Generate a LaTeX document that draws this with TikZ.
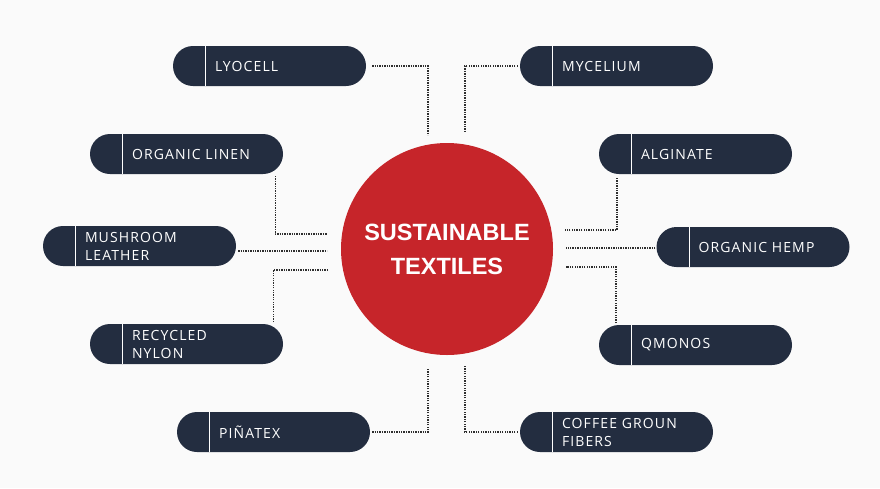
\documentclass[tikz,border=0pt]{standalone}
\usepackage{fontspec}
\setmainfont{Open Sans}
\newfontfamily\titlefont{Liberation Sans}
\usetikzlibrary{shapes.misc}
\definecolor{navy}{HTML}{232D40}
\definecolor{hubred}{HTML}{C6252A}
\definecolor{paper}{HTML}{FAFAFA}
\definecolor{dotgray}{HTML}{2E2E2E}

\begin{document}
\begin{tikzpicture}[x=1pt,y=-1pt,
    pill/.style={rounded rectangle, fill=navy, minimum width=193pt, minimum height=40pt, inner sep=0pt},
    divider/.style={draw=white, line width=1.2pt},
    pilltext/.style={anchor=west, text=white, align=left, inner sep=0pt,
        font=\addfontfeatures{LetterSpace=8}\fontsize{14}{18}\selectfont},
    link/.style={draw=dotgray, line width=1.4pt, dash pattern=on 1.3pt off 1.1pt}]
    \fill[paper] (0,0) rectangle (880,488);
    % hub
    \node [circle, fill=hubred, minimum size=212pt, inner sep=0pt, text=white, align=center,
        font=\titlefont\bfseries\fontsize{23.5}{34}\selectfont] (hub) at (447,249) {SUSTAINABLE\\TEXTILES};
    % pills
    \foreach \name/\x/\y/\txt in {lyo/269.5/66/LYOCELL, myc/616.5/66/MYCELIUM,
        lin/186.5/154/ORGANIC LINEN, alg/695.5/154/ALGINATE,
        mus/139.5/246/{MUSHROOM\\LEATHER}, hemp/753/247/ORGANIC HEMP,
        nyl/186.5/344/{RECYCLED\\NYLON}, qmo/695.5/345/QMONOS,
        pin/273.5/432/PIÑATEX, cof/616.5/432/{COFFEE GROUN\\FIBERS}} {
        \node [pill] (\name) at (\x,\y) {};
        \draw [divider] ([xshift=33pt]\name.west) ++(0,-20) -- ++(0,40);
        \node [pilltext] (\name-t) at ([xshift=42pt]\name.west) {\txt};
    }
    % free ends near the hub
    \coordinate (e-lyo) at (428,135);
    \coordinate (e-myc) at (465,132);
    \coordinate (e-lin) at (327,234);
    \coordinate (e-alg) at (565,230);
    \coordinate (e-mus) at (327,251);
    \coordinate (e-hemp) at (566,248);
    \coordinate (e-nyl) at (327,270);
    \coordinate (e-qmo) at (566,267);
    \coordinate (e-pin) at (428,368);
    \coordinate (e-cof) at (465,366);
    % connectors
    \draw [link] ([xshift=6pt]lyo.east) -| (e-lyo);
    \draw [link] ([xshift=-2pt]myc.west) -| (e-myc);
    \draw [link] ([shift={(-8pt,-22pt)}]lin.east) |- (e-lin);
    \draw [link] ([shift={(18pt,-24pt)}]alg.west) |- (e-alg);
    \draw [link] ([shift={(2pt,-5pt)}]mus.east) -- (e-mus);
    \draw [link] ([shift={(-1pt,-1pt)}]hemp.west) -- (e-hemp);
    \draw [link] ([shift={(-10pt,22pt)}]nyl.east) |- (e-nyl);
    \draw [link] ([shift={(17pt,22pt)}]qmo.west) |- (e-qmo);
    \draw [link] ([xshift=2pt]pin.east) -| (e-pin);
    \draw [link] ([xshift=-2pt]cof.west) -| (e-cof);
\end{tikzpicture}
\end{document}
